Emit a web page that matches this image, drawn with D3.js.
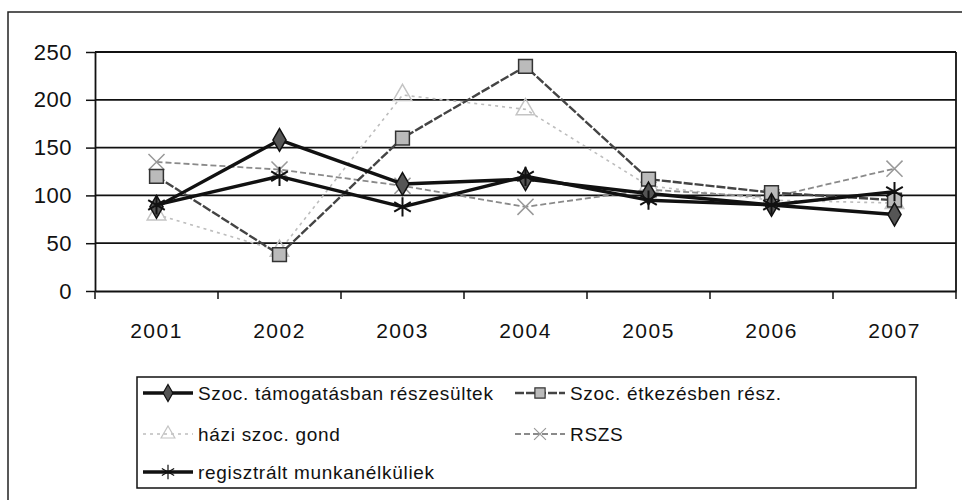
<!DOCTYPE html>
<html>
<head>
<meta charset="utf-8">
<script src="https://cdn.jsdelivr.net/npm/d3@7"></script>
<style>
  body { margin: 0; background: #fff; }
  text { font-family: "Liberation Sans", Arial, sans-serif; fill: #111; }
</style>
</head>
<body>
<div id="chart"></div>
<script>
// data
const years = ["2001", "2002", "2003", "2004", "2005", "2006", "2007"];
const yTicks = [0, 50, 100, 150, 200, 250];
const seriesNames = [
  "Szoc. támogatásban részesültek",
  "Szoc. étkezésben rész.",
  "házi szoc. gond",
  "RSZS",
  "regisztrált munkanélküliek"
];
const szocTamogatas = [88, 158, 112, 117, 102, 90, 80];
const szocEtkezes = [120, 38, 160, 235, 117, 103, 95];
const haziGond = [80, 42, 205, 190, 110, 95, 92];
const rszs = [135, 127, 110, 88, 106, 98, 128];
const munkanelkuli = [90, 120, 88, 120, 95, 90, 104];

const seriesValues = [szocTamogatas, szocEtkezes, haziGond, rszs, munkanelkuli];

// look of every series
const styles = [
  { color: "#111", width: 3.4, dash: null, symbol: d3.symbolDiamond, size: 150, fill: "#555", stroke: "#111" },
  { color: "#444", width: 2.4, dash: "9,2", symbol: d3.symbolSquare, size: 190, fill: "#bbb", stroke: "#333" },
  { color: "#bdbdbd", width: 1.6, dash: "3,4", symbol: d3.symbolTriangle, size: 150, fill: "none", stroke: "#c4c4c4" },
  { color: "#8a8a8a", width: 1.8, dash: "6,3", symbol: d3.symbolTimes, size: 170, fill: "none", stroke: "#999" },
  { color: "#111", width: 3.4, dash: null, symbol: d3.symbolAsterisk, size: 260, fill: "none", stroke: "#111" }
];

const W = 962, H = 500;
const plot = { left: 95, right: 956, top: 52, bottom: 291 };

const svg = d3.select("#chart").append("svg")
  .attr("width", W)
  .attr("height", H);

// outer chart frame
svg.append("rect")
  .attr("x", 8).attr("y", 12)
  .attr("width", 960).attr("height", 492)
  .attr("fill", "none")
  .attr("stroke", "#222")
  .attr("stroke-width", 1.5);

const x = d3.scaleBand().domain(years).range([plot.left, plot.right]).padding(0);
const y = d3.scaleLinear().domain([0, 250]).range([plot.bottom, plot.top]);

// horizontal gridlines
svg.append("g")
  .selectAll("line")
  .data(yTicks.filter(d => d > 0))
  .join("line")
  .attr("x1", plot.left).attr("x2", plot.right)
  .attr("y1", d => y(d)).attr("y2", d => y(d))
  .attr("stroke", "#111")
  .attr("stroke-width", 1.8);

// right border of plot area
svg.append("line")
  .attr("x1", plot.right).attr("x2", plot.right)
  .attr("y1", plot.top).attr("y2", plot.bottom)
  .attr("stroke", "#111").attr("stroke-width", 1.8);

// y axis
const yAxis = svg.append("g")
  .attr("transform", `translate(${plot.left},0)`)
  .call(d3.axisLeft(y).tickValues(yTicks).tickSize(9).tickPadding(14).tickSizeOuter(0));
yAxis.select(".domain").attr("stroke", "#111").attr("stroke-width", 1.8);
yAxis.selectAll(".tick line").attr("stroke", "#111").attr("stroke-width", 1.5);
yAxis.selectAll("text").attr("font-size", 22).attr("letter-spacing", 0.5).attr("fill", "#111");

// x axis, ticks sit between the categories
const xAxis = svg.append("g")
  .attr("transform", `translate(0,${plot.bottom})`)
  .call(d3.axisBottom(x).tickSize(0).tickPadding(32).tickSizeOuter(0));
xAxis.select(".domain").attr("stroke", "#111").attr("stroke-width", 1.8);
xAxis.selectAll("text").attr("font-size", 21).attr("letter-spacing", 1.5).attr("fill", "#111");

const edges = years.map(d => x(d)).concat([plot.right]);
svg.append("g")
  .selectAll("line")
  .data(edges)
  .join("line")
  .attr("x1", d => d).attr("x2", d => d)
  .attr("y1", plot.bottom).attr("y2", plot.bottom + 8)
  .attr("stroke", "#111").attr("stroke-width", 1.5);

const cx = d => x(d) + x.bandwidth() / 2;
const line = d3.line().x((d, i) => cx(years[i])).y(d => y(d));

// draw light series first so the black ones sit on top
const order = [2, 3, 1, 0, 4];
order.forEach(k => {
  const s = styles[k];
  const g = svg.append("g");
  g.append("path")
    .datum(seriesValues[k])
    .attr("d", line)
    .attr("fill", "none")
    .attr("stroke", s.color)
    .attr("stroke-width", s.width)
    .attr("stroke-dasharray", s.dash)
    .attr("stroke-linejoin", "round");
  g.selectAll("path.mark")
    .data(seriesValues[k])
    .join("path")
    .attr("class", "mark")
    .attr("transform", (d, i) => `translate(${cx(years[i])},${y(d)})`)
    .attr("d", d3.symbol().type(s.symbol).size(s.size))
    .attr("fill", s.fill)
    .attr("stroke", s.stroke)
    .attr("stroke-width", k === 4 ? 2 : 1.5);
});

// legend
const legend = svg.append("g");
legend.append("rect")
  .attr("x", 137).attr("y", 377)
  .attr("width", 779).attr("height", 111)
  .attr("fill", "#fff")
  .attr("stroke", "#111")
  .attr("stroke-width", 1.5);

const legendPos = [
  { x: 143, y: 393 },
  { x: 515, y: 393 },
  { x: 143, y: 434 },
  { x: 515, y: 434 },
  { x: 143, y: 472 }
];

seriesNames.forEach((name, k) => {
  const s = styles[k];
  const p = legendPos[k];
  legend.append("line")
    .attr("x1", p.x).attr("x2", p.x + 50)
    .attr("y1", p.y).attr("y2", p.y)
    .attr("stroke", s.color)
    .attr("stroke-width", s.width)
    .attr("stroke-dasharray", s.dash);
  legend.append("path")
    .attr("transform", `translate(${p.x + 25},${p.y})`)
    .attr("d", d3.symbol().type(s.symbol).size(s.size * 0.55))
    .attr("fill", s.fill)
    .attr("stroke", s.stroke)
    .attr("stroke-width", 1.2);
  legend.append("text")
    .attr("x", p.x + 55)
    .attr("y", p.y)
    .attr("dy", "0.35em")
    .attr("font-size", 19)
    .attr("letter-spacing", 0.7)
    .text(name);
});
</script>
</body>
</html>
